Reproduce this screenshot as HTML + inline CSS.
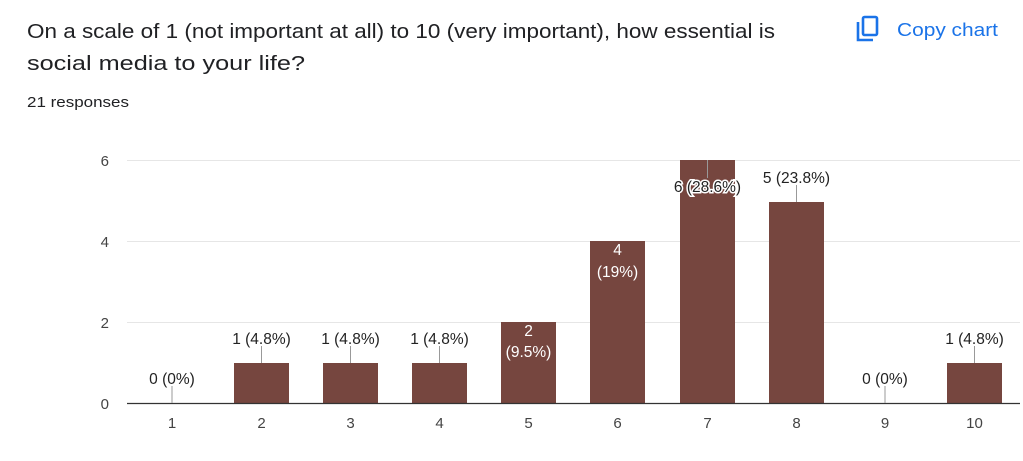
<!DOCTYPE html>
<html><head><meta charset="utf-8"><style>
body{margin:0;background:#fff;width:1023px;height:456px;overflow:hidden;font-family:"Liberation Sans",Arial,sans-serif;}
</style></head><body>
<svg width="1023" height="456" xmlns="http://www.w3.org/2000/svg" font-family="Liberation Sans, Arial, sans-serif">
<text x="27" y="38" font-size="20" fill="#202124" textLength="748" lengthAdjust="spacingAndGlyphs">On a scale of 1 (not important at all) to 10 (very important), how essential is</text>
<text x="27" y="70" font-size="20" fill="#202124" textLength="278" lengthAdjust="spacingAndGlyphs">social media to your life?</text>
<text x="27" y="107" font-size="15" fill="#202124" textLength="102" lengthAdjust="spacingAndGlyphs">21 responses</text>
<g fill="none" stroke="#1a73e8" stroke-width="2.6">
<rect x="863" y="17" width="14" height="18" rx="1.5"/>
<path d="M858 22 V40 H873"/>
</g>
<text x="897" y="36" font-size="18" fill="#1a73e8" textLength="101" lengthAdjust="spacingAndGlyphs">Copy chart</text>
<g stroke="#e6e6e6" stroke-width="1">
<line x1="127" y1="160.5" x2="1020" y2="160.5"/>
<line x1="127" y1="241.5" x2="1020" y2="241.5"/>
<line x1="127" y1="322.5" x2="1020" y2="322.5"/>
</g>
<g font-size="15" fill="#444" text-anchor="end">
<text x="109" y="166">6</text><text x="109" y="247">4</text><text x="109" y="328">2</text><text x="109" y="409">0</text>
</g>
<g fill="#76463f">
<rect x="234" y="363" width="55" height="40"/>
<rect x="323" y="363" width="55" height="40"/>
<rect x="412" y="363" width="55" height="40"/>
<rect x="501" y="322" width="55" height="81"/>
<rect x="590" y="241" width="55" height="162"/>
<rect x="680" y="160" width="55" height="243"/>
<rect x="769" y="202" width="55" height="201"/>
<rect x="947" y="363" width="55" height="40"/>
</g>
<line x1="127" y1="403.5" x2="1020" y2="403.5" stroke="#333" stroke-width="1.2"/>
<g stroke="#999" stroke-width="1">
<line x1="172" y1="386" x2="172" y2="403"/>
<line x1="261.5" y1="346" x2="261.5" y2="363"/>
<line x1="350.5" y1="346" x2="350.5" y2="363"/>
<line x1="439.5" y1="346" x2="439.5" y2="363"/>
<line x1="707.5" y1="160" x2="707.5" y2="178"/>
<line x1="796.5" y1="185" x2="796.5" y2="202"/>
<line x1="885" y1="386" x2="885" y2="403"/>
<line x1="974.5" y1="346" x2="974.5" y2="363"/>
</g>
<g font-size="15.5" fill="#222" text-anchor="middle">
<text x="172" y="384">0 (0%)</text>
<text x="261.5" y="344">1 (4.8%)</text>
<text x="350.5" y="344">1 (4.8%)</text>
<text x="439.5" y="344">1 (4.8%)</text>
<text x="707.5" y="192" stroke="#fff" stroke-width="3" paint-order="stroke">6 (28.6%)</text>
<text x="796.5" y="183">5 (23.8%)</text>
<text x="885" y="384">0 (0%)</text>
<text x="974.5" y="344">1 (4.8%)</text>
</g>
<g font-size="15.5" fill="#fff" text-anchor="middle">
<text x="528.5" y="336">2</text><text x="528.5" y="357">(9.5%)</text>
<text x="617.5" y="255">4</text><text x="617.5" y="277">(19%)</text>
</g>
<g font-size="15" fill="#444" text-anchor="middle">
<text x="172" y="428">1</text><text x="261.5" y="428">2</text><text x="350.5" y="428">3</text><text x="439.5" y="428">4</text><text x="528.5" y="428">5</text><text x="617.5" y="428">6</text><text x="707.5" y="428">7</text><text x="796.5" y="428">8</text><text x="885" y="428">9</text><text x="974.5" y="428">10</text>
</g>
</svg>
</body></html>
